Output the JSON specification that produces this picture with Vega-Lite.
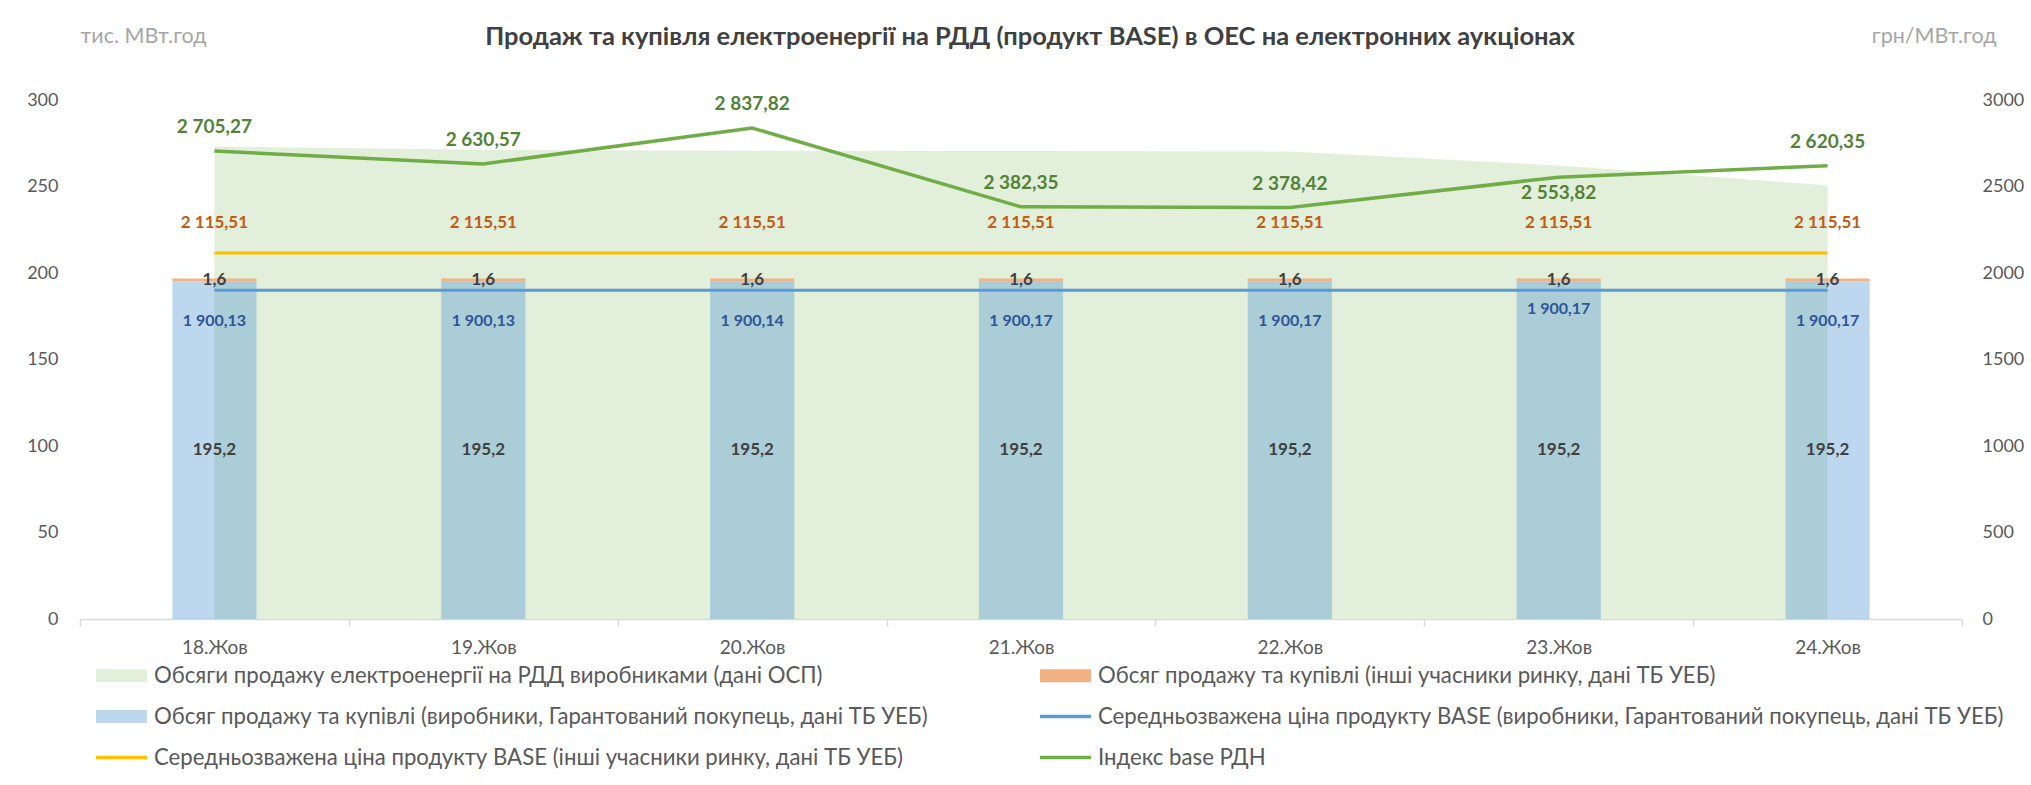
{
  "$schema": "https://vega.github.io/schema/vega-lite/v6.json",
  "width": 1882,
  "height": 519,
  "autosize": "none",
  "padding": {"left": 80, "top": 100, "right": 69, "bottom": 166},
  "background": "white",
  "title": {
    "text": "Продаж та купівля електроенергії на РДД (продукт BASE) в ОЕС на електронних аукціонах",
    "fontSize": 25.5, "fontWeight": "bold", "color": "#404040", "anchor": "middle",
    "dx": 9, "offset": -37, "baseline": "middle", "font": "Lato"
  },
  "datasets": {
    "days": [
      {"date": "18.Жов", "area": 273.1, "prod": 195.2, "others": 1.6, "priceProd": 1900.13, "priceOthers": 2115.51, "index": 2705.27},
      {"date": "19.Жов", "area": 271.2, "prod": 195.2, "others": 1.6, "priceProd": 1900.13, "priceOthers": 2115.51, "index": 2630.57},
      {"date": "20.Жов", "area": 270.6, "prod": 195.2, "others": 1.6, "priceProd": 1900.14, "priceOthers": 2115.51, "index": 2837.82},
      {"date": "21.Жов", "area": 270.5, "prod": 195.2, "others": 1.6, "priceProd": 1900.17, "priceOthers": 2115.51, "index": 2382.35},
      {"date": "22.Жов", "area": 270.2, "prod": 195.2, "others": 1.6, "priceProd": 1900.17, "priceOthers": 2115.51, "index": 2378.42},
      {"date": "23.Жов", "area": 262.1, "prod": 195.2, "others": 1.6, "priceProd": 1900.17, "priceOthers": 2115.51, "index": 2553.82},
      {"date": "24.Жов", "area": 250.7, "prod": 195.2, "others": 1.6, "priceProd": 1900.17, "priceOthers": 2115.51, "index": 2620.35}
    ]
  },
  "data": {"name": "days"},
  "encoding": {
    "x": {
      "field": "date", "type": "nominal", "sort": null,
      "scale": {"paddingInner": 0, "paddingOuter": 0},
      "axis": {
        "title": null, "labelAngle": 0, "labelFontSize": 19, "labelColor": "#595959",
        "domainColor": "#D9D9D9", "domainWidth": 1.5, "tickColor": "#D9D9D9", "tickWidth": 1.5,
        "tickSize": 7, "tickBand": "extent", "labelPadding": 12, "grid": false
      }
    }
  },
  "layer": [
    {
      "layer": [
        {
          "mark": {"type": "area", "color": "#E2EFDA", "opacity": 1},
          "encoding": {
            "y": {
              "field": "area", "type": "quantitative",
              "scale": {"domain": [0, 300], "nice": false, "zero": true},
              "axis": {"orient": "left", "title": "тис. МВт.год", "values": [0, 50, 100, 150, 200, 250, 300], "format": "d"}
            }
          }
        },
        {
          "transform": [{"fold": ["prod", "others"], "as": ["key", "value"]}],
          "mark": {"type": "bar", "width": {"band": 0.313}},
          "encoding": {
            "y": {"field": "value", "type": "quantitative", "stack": "zero",
                  "scale": {"domain": [0, 300], "nice": false, "zero": true},
                  "axis": {"orient": "left", "title": "тис. МВт.год", "values": [0, 50, 100, 150, 200, 250, 300], "format": "d"}},
            "fill": {"field": "key", "type": "nominal",
                     "scale": {"domain": ["prod", "others"], "range": ["rgba(91,155,213,0.4)", "#F4B183"]},
                     "legend": null},
            "order": {"field": "key", "sort": "descending"}
          }
        },
        {
          "transform": [{"fold": ["area", "others", "prod", "priceProd", "priceOthers", "index"], "as": ["key", "value"]}],
          "mark": {"type": "point", "filled": true, "opacity": 0},
          "encoding": {
            "y": {"field": "prod", "type": "quantitative",
                  "scale": {"domain": [0, 300], "nice": false, "zero": true},
                  "axis": {"orient": "left", "title": "тис. МВт.год", "values": [0, 50, 100, 150, 200, 250, 300], "format": "d"}},
            "color": {
              "field": "key", "type": "nominal",
              "scale": {
                "domain": ["area", "prod", "priceOthers", "others", "priceProd", "index"],
                "range": ["#E2EFDA", "#BDD7EE", "#FFC000", "#F4B183", "#5B9BD5", "#70AD47"]
              },
              "legend": {
                "title": null, "orient": "none", "legendX": 16, "legendY": 550, "columns": 2, "columnPadding": 112,
                "rowPadding": 4, "symbolSize": 2601, "symbolStrokeWidth": 0, "symbolOpacity": 1,
                "labelFontSize": 22.2, "labelColor": "#595959", "labelLimit": 1400, "labelOffset": 7,
                "labelExpr": "datum.value == 'area' ? 'Обсяги продажу електроенергії на РДД виробниками (дані ОСП)' : datum.value == 'others' ? 'Обсяг продажу та купівлі (інші учасники ринку, дані ТБ УЕБ)' : datum.value == 'prod' ? 'Обсяг продажу та купівлі (виробники, Гарантований покупець, дані ТБ УЕБ)' : datum.value == 'priceProd' ? 'Середньозважена ціна продукту BASE (виробники, Гарантований покупець, дані ТБ УЕБ)' : datum.value == 'priceOthers' ? 'Середньозважена ціна продукту BASE (інші учасники ринку,  дані ТБ УЕБ)' : 'Індекс base РДН'"
              }
            },
            "shape": {
              "field": "key", "type": "nominal",
              "scale": {
                "domain": ["area", "prod", "priceOthers", "others", "priceProd", "index"],
                "range": [
                  "M-1,-0.255L1,-0.255L1,0.255L-1,0.255Z",
                  "M-1,-0.255L1,-0.255L1,0.255L-1,0.255Z",
                  "M-1,-0.07L1,-0.07L1,0.07L-1,0.07Z",
                  "M-1,-0.255L1,-0.255L1,0.255L-1,0.255Z",
                  "M-1,-0.07L1,-0.07L1,0.07L-1,0.07Z",
                  "M-1,-0.07L1,-0.07L1,0.07L-1,0.07Z"
                ]
              },
              "legend": {
                "title": null, "orient": "none", "legendX": 16, "legendY": 550, "columns": 2, "columnPadding": 112,
                "rowPadding": 4, "symbolSize": 2601, "symbolStrokeWidth": 0, "symbolOpacity": 1,
                "labelFontSize": 22.2, "labelColor": "#595959", "labelLimit": 1400, "labelOffset": 7,
                "labelExpr": "datum.value == 'area' ? 'Обсяги продажу електроенергії на РДД виробниками (дані ОСП)' : datum.value == 'others' ? 'Обсяг продажу та купівлі (інші учасники ринку, дані ТБ УЕБ)' : datum.value == 'prod' ? 'Обсяг продажу та купівлі (виробники, Гарантований покупець, дані ТБ УЕБ)' : datum.value == 'priceProd' ? 'Середньозважена ціна продукту BASE (виробники, Гарантований покупець, дані ТБ УЕБ)' : datum.value == 'priceOthers' ? 'Середньозважена ціна продукту BASE (інші учасники ринку,  дані ТБ УЕБ)' : 'Індекс base РДН'"
              }
            }
          }
        },
        {
          "mark": {"type": "text", "fontWeight": "bold", "fontSize": 17, "color": "#404040", "baseline": "middle", "dy": -1},
          "encoding": {
            "y": {"field": "prod", "type": "quantitative",
                  "scale": {"domain": [0, 300], "nice": false, "zero": true},
                  "axis": {"orient": "left", "title": "тис. МВт.год", "values": [0, 50, 100, 150, 200, 250, 300], "format": "d"}},
            "text": {"field": "others", "type": "quantitative", "format": ".1f"}
          }
        }
      ]
    },
    {
      "layer": [
        {
          "mark": {"type": "line", "color": "#FFC000", "strokeWidth": 3},
          "encoding": {
            "y": {
              "field": "priceOthers", "type": "quantitative",
              "scale": {"domain": [0, 3000], "nice": false, "zero": true},
              "axis": {"orient": "right", "title": "грн/МВт.год", "values": [0, 500, 1000, 1500, 2000, 2500, 3000], "format": "d"}
            }
          }
        },
        {
          "mark": {"type": "line", "color": "#5B9BD5", "strokeWidth": 3},
          "encoding": {
            "y": {"field": "priceProd", "type": "quantitative",
                  "scale": {"domain": [0, 3000], "nice": false, "zero": true},
                  "axis": {"orient": "right", "title": "грн/МВт.год", "values": [0, 500, 1000, 1500, 2000, 2500, 3000], "format": "d"}}
          }
        },
        {
          "mark": {"type": "line", "color": "#70AD47", "strokeWidth": 3.5},
          "encoding": {
            "y": {"field": "index", "type": "quantitative",
                  "scale": {"domain": [0, 3000], "nice": false, "zero": true},
                  "axis": {"orient": "right", "title": "грн/МВт.год", "values": [0, 500, 1000, 1500, 2000, 2500, 3000], "format": "d"}}
          }
        },
        {
          "mark": {"type": "text", "fontWeight": "bold", "fontSize": 17, "color": "#C55A11", "baseline": "middle", "dy": -30},
          "encoding": {
            "y": {"field": "priceOthers", "type": "quantitative",
                  "scale": {"domain": [0, 3000], "nice": false, "zero": true},
                  "axis": {"orient": "right", "title": "грн/МВт.год", "values": [0, 500, 1000, 1500, 2000, 2500, 3000], "format": "d"}},
            "text": {"field": "priceOthers", "type": "quantitative", "format": ",.2f"}
          }
        },
        {
          "transform": [{"filter": "datum.date != '23.Жов'"}],
          "mark": {"type": "text", "fontWeight": "bold", "fontSize": 16, "color": "#2F5597", "baseline": "middle", "dy": 31},
          "encoding": {
            "y": {"field": "priceProd", "type": "quantitative",
                  "scale": {"domain": [0, 3000], "nice": false, "zero": true},
                  "axis": {"orient": "right", "title": "грн/МВт.год", "values": [0, 500, 1000, 1500, 2000, 2500, 3000], "format": "d"}},
            "text": {"field": "priceProd", "type": "quantitative", "format": ",.2f"}
          }
        },
        {
          "transform": [{"filter": "datum.date == '23.Жов'"}],
          "mark": {"type": "text", "fontWeight": "bold", "fontSize": 16, "color": "#2F5597", "baseline": "middle", "dy": 19},
          "encoding": {
            "y": {"field": "priceProd", "type": "quantitative",
                  "scale": {"domain": [0, 3000], "nice": false, "zero": true},
                  "axis": {"orient": "right", "title": "грн/МВт.год", "values": [0, 500, 1000, 1500, 2000, 2500, 3000], "format": "d"}},
            "text": {"field": "priceProd", "type": "quantitative", "format": ",.2f"}
          }
        },
        {
          "transform": [{"filter": "datum.date != '23.Жов'"}],
          "mark": {"type": "text", "fontWeight": "bold", "fontSize": 19, "color": "#548235", "baseline": "middle", "dy": -24},
          "encoding": {
            "y": {"field": "index", "type": "quantitative",
                  "scale": {"domain": [0, 3000], "nice": false, "zero": true},
                  "axis": {"orient": "right", "title": "грн/МВт.год", "values": [0, 500, 1000, 1500, 2000, 2500, 3000], "format": "d"}},
            "text": {"field": "index", "type": "quantitative", "format": ",.2f"}
          }
        },
        {
          "transform": [{"filter": "datum.date == '23.Жов'"}],
          "mark": {"type": "text", "fontWeight": "bold", "fontSize": 19, "color": "#548235", "baseline": "middle", "dy": 16},
          "encoding": {
            "y": {"field": "index", "type": "quantitative",
                  "scale": {"domain": [0, 3000], "nice": false, "zero": true},
                  "axis": {"orient": "right", "title": "грн/МВт.год", "values": [0, 500, 1000, 1500, 2000, 2500, 3000], "format": "d"}},
            "text": {"field": "index", "type": "quantitative", "format": ",.2f"}
          }
        }
      ]
    },
    {
      "mark": {"type": "text", "fontWeight": "bold", "fontSize": 17, "color": "#404040", "baseline": "middle"},
      "encoding": {
        "y": {"field": "prod", "type": "quantitative",
              "scale": {"domain": [0, 600], "nice": false, "zero": true}, "axis": null},
        "text": {"field": "prod", "type": "quantitative", "format": ".1f"}
      }
    }
  ],
  "resolve": {"scale": {"y": "independent"}, "axis": {"y": "independent"}},
  "config": {
    "font": "Lato",
    "locale": {"number": {"decimal": ",", "thousands": " ", "grouping": [3], "currency": ["", ""]}},
    "view": {"stroke": null},
    "axisLeft": {
      "domain": false, "ticks": false, "grid": false,
      "labelFontSize": 18, "labelColor": "#595959", "labelPadding": 22,
      "titleAngle": 0, "titleX": 0, "titleY": -64, "titleAlign": "left", "titleBaseline": "middle",
      "titleFontSize": 21.5, "titleFontWeight": "normal", "titleColor": "#A6A6A6"
    },
    "axisRight": {
      "domain": false, "ticks": false, "grid": false,
      "labelFontSize": 18, "labelColor": "#595959", "labelPadding": 20,
      "titleAngle": 0, "titleX": 34, "titleY": -64, "titleAlign": "right", "titleBaseline": "middle",
      "titleFontSize": 21.5, "titleFontWeight": "normal", "titleColor": "#A6A6A6"
    }
  }
}
